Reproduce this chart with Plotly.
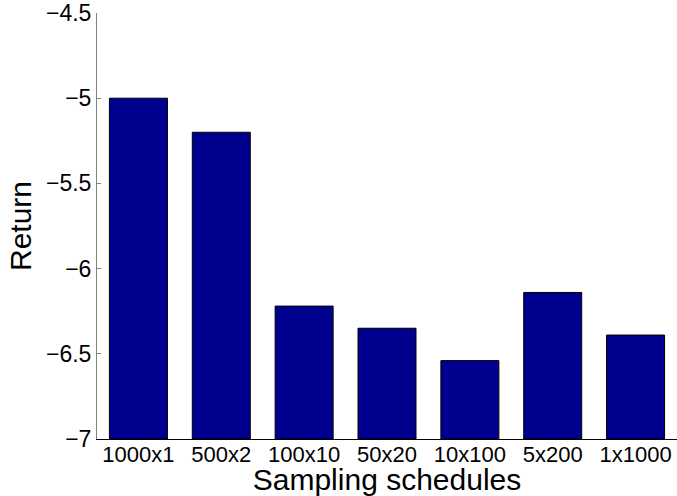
import plotly.graph_objects as go

# Average return for each sampling schedule
schedules = ["1000x1", "500x2", "100x10", "50x20", "10x100", "5x200", "1x1000"]
returns = [-5.0, -5.2, -6.22, -6.35, -6.54, -6.14, -6.39]

y_floor = -7.0
y_ticks = [-7, -6.5, -6, -5.5, -5, -4.5]

FONT = "Liberation Sans, Arial, Helvetica, sans-serif"

fig = go.Figure(
    go.Bar(
        x=schedules,
        base=[y_floor] * len(returns),
        y=[r - y_floor for r in returns],
        customdata=returns,
        hovertemplate="%{x}: %{customdata}<extra></extra>",
        marker=dict(color="#00008F", line=dict(color="#000000", width=1)),
    )
)

fig.update_layout(
    width=677,
    height=496,
    margin=dict(l=97, r=0, t=13, b=57),
    paper_bgcolor="white",
    plot_bgcolor="white",
    bargap=0.3,
    showlegend=False,
    font=dict(family=FONT, color="#000000"),
)

fig.update_xaxes(
    type="category",
    range=[-0.5, 6.5],
    showline=True,
    linecolor="#000000",
    linewidth=1,
    ticks="",
    showgrid=False,
    zeroline=False,
    tickfont=dict(size=22, family=FONT),
    ticklabelstandoff=-4,
    title=dict(text="Sampling schedules", font=dict(size=30, family=FONT), standoff=3),
)

fig.update_yaxes(
    range=[-7, -4.5],
    tickvals=y_ticks,
    ticktext=["\u22127", "\u22126.5", "\u22126", "\u22125.5", "\u22125", "\u22124.5"],
    showline=True,
    linecolor="#808080",
    linewidth=1,
    ticks="inside",
    ticklen=4,
    tickcolor="#808080",
    showgrid=False,
    zeroline=False,
    tickfont=dict(size=23, family=FONT),
    ticklabelstandoff=0,
    title=dict(text="Return", font=dict(size=30, family=FONT), standoff=5),
)

fig.write_html("out.html")
